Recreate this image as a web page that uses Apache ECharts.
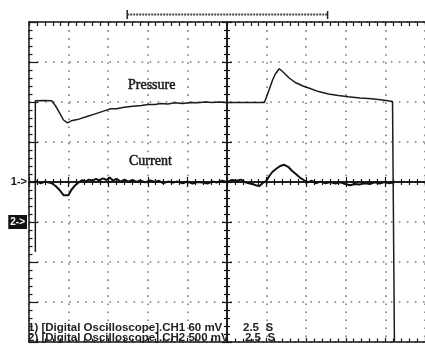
<!DOCTYPE html>
<html>
<head>
<meta charset="utf-8">
<script src="https://cdn.jsdelivr.net/npm/echarts@6/dist/echarts.min.js"></script>
<style>
html,body{margin:0;padding:0;background:#fff;}
#c{width:425px;height:346px;}
</style>
</head>
<body>
<div id="c"></div>
<script>
// time in seconds relative to screen centre (2.5 s/div), amplitude in divisions
const pressureTime = [-12.10,-12.10,-11.57,-11.07,-10.82,-10.57,-10.32,-10.07,-9.83,-9.45,-8.89,-8.27,-7.65,-7.34,-6.97,-6.59,-6.22,-5.78,-5.41,-4.98,-4.54,-4.17,-3.73,-3.30,-2.80,-2.30,-1.87,-1.37,-0.93,-0.50,0,1.24,2.36,2.61,2.86,3.05,3.30,3.54,3.92,4.35,4.79,5.16,5.78,6.41,7.03,7.65,8.40,9.14,9.83,10.45,10.57,10.57];
const pressureDiv  = [-1.75,2.03,2.04,2.03,1.90,1.73,1.55,1.48,1.53,1.56,1.63,1.71,1.79,1.83,1.83,1.86,1.88,1.90,1.91,1.94,1.94,1.96,1.95,1.98,1.96,1.99,1.98,2.00,1.99,2.00,1.99,1.99,1.99,2.25,2.53,2.70,2.83,2.75,2.60,2.48,2.40,2.35,2.26,2.20,2.16,2.13,2.10,2.08,2.05,2.01,2.01,-4.0];

const currentTime = [-12.25,-12.00,-11.75,-11.50,-11.26,-11.07,-10.82,-10.57,-10.32,-10.20,-10.01,-9.83,-9.58,-9.33,-9.14,-8.96,-8.71,-8.52,-8.27,-8.08,-7.84,-7.59,-7.40,-7.21,-6.97,-6.72,-6.47,-6.22,-5.97,-5.72,-5.47,-5.16,-4.85,-4.54,-4.29,-4.04,-3.73,-3.42,-3.11,-2.80,-2.49,-2.18,-1.87,-1.55,-1.24,-0.93,-0.62,-0.31,0,0.31,0.62,0.87,1.12,1.37,1.62,1.87,2.05,2.24,2.49,2.67,2.86,3.11,3.36,3.61,3.86,4.10,4.35,4.60,4.85,5.10,5.35,5.60,5.91,6.22,6.53,6.84,7.15,7.46,7.77,8.08,8.40,8.71,9.02,9.33,9.64,9.95,10.26,10.57];
const currentDiv  = [0,0.01,-0.03,0.01,-0.01,-0.03,-0.10,-0.20,-0.33,-0.38,-0.33,-0.20,-0.08,0,0.05,0.01,0.06,0.03,0.08,0.04,0.09,0.05,0.11,0.04,0.08,0.01,0.06,0.01,0.05,0,0.04,-0.01,0.04,0,0.03,-0.03,0.01,-0.01,0.01,-0.03,0.01,-0.04,0,-0.01,-0.04,0.01,-0.01,0.03,0,0.05,0.03,0.06,0,-0.03,-0.05,-0.09,-0.10,-0.03,0.03,0.15,0.25,0.33,0.40,0.43,0.38,0.28,0.20,0.11,0.05,-0.01,0.03,-0.03,0.01,-0.03,0,-0.04,-0.01,-0.05,-0.08,-0.05,-0.06,-0.03,-0.05,-0.01,-0.04,0,-0.03,0];

const markerValues = [0, -1];
const markerTexts = ['1->', '2->'];
const cursorRange = [-6.3, 6.35];
const traceLabels = ['Pressure', 'Current'];
const footerLines = ['1) [Digital Oscilloscope].CH1 60 mV', '2) [Digital Oscilloscope].CH2 500 mV'];
const footerTimebase = ['2.5  S', '2.5  S'];

const ink = '#151515';
const dotStyle = {color:'#7a7a7a', width:1.6, type:[1.6, 6.44]};

function xAx(pos, onZero, inside, majorLen, minorLen, split, z) {
  return {
    type:'value', min:-12.5, max:12.5, interval:2.5, position:pos,
    axisLine:{show:true, onZero:onZero, onZeroAxisIndex:0, lineStyle:{color:ink, width:1.5}},
    axisTick:{show:true, inside:inside, length:majorLen, lineStyle:{color:ink, width:1.2}},
    minorTick:{show:true, splitNumber:5, length:minorLen, lineStyle:{color:ink, width:1.2}},
    axisLabel:{show:false},
    splitLine:{show:split, lineStyle:dotStyle},
    z:z
  };
}
function yAx(pos, onZero, inside, majorLen, minorLen, split, z, labels) {
  return {
    type:'value', min:-4, max:4, interval:1, position:pos,
    axisLine:{show:true, onZero:onZero, onZeroAxisIndex:0, lineStyle:{color:ink, width:1.5}},
    axisTick:{show:true, inside:inside, length:majorLen, lineStyle:{color:ink, width:1.2}},
    minorTick:{show:true, splitNumber:5, length:minorLen, lineStyle:{color:ink, width:1.2}},
    axisLabel: labels ? {
      show:true, margin:2, fontFamily:'Liberation Sans', fontSize:11, fontWeight:'bold', color:ink,
      formatter: function(v){
        const i = markerValues.indexOf(Math.round(v));
        if (i < 0) return '';
        return i === 0 ? '{a|' + markerTexts[i] + '}' : '{b|' + markerTexts[i] + '}';
      },
      rich:{
        a:{fontFamily:'Liberation Sans', fontSize:11, fontWeight:'bold', color:ink},
        b:{fontFamily:'Liberation Sans', fontSize:10, fontWeight:'bold', color:'#fff', backgroundColor:'#111', padding:[2,2,2,2]}
      }
    } : {show:false},
    splitLine:{show:split, lineStyle:dotStyle},
    z:z
  };
}

const chart = echarts.init(document.getElementById('c'), null, {renderer:'canvas'});
const pressure = pressureTime.map((t,i)=>[t, pressureDiv[i]]);
const current = currentTime.map((t,i)=>[t, currentDiv[i]]);

chart.setOption({
  animation:false,
  backgroundColor:'#fff',
  grid:{left:29, top:22, width:402, height:320, containLabel:false},
  xAxis:[
    xAx('bottom', true, false, 5, 3, false, 5),
    xAx('top', true, false, 5, 3, false, 5),
    xAx('bottom', false, true, 4, 3.5, true, 1),
    xAx('top', false, true, 4, 4, false, 1)
  ],
  yAxis:[
    yAx('left', true, false, 5, 3, false, 5, false),
    yAx('right', true, false, 5, 3, false, 5, false),
    yAx('left', false, true, 9, 3.5, true, 1, true)
  ],
  series:[
    {type:'line', name:traceLabels[0], data:pressure, xAxisIndex:0, yAxisIndex:0, showSymbol:false, symbol:'none',
     lineStyle:{color:'#1c1c1c', width:1.5}, z:6},
    {type:'line', name:traceLabels[1], data:current, xAxisIndex:0, yAxisIndex:0, showSymbol:false, symbol:'none',
     lineStyle:{color:'#101010', width:2}, z:6}
  ]
});

const cx0 = chart.convertToPixel({xAxisIndex:0}, cursorRange[0]);
const cx1 = chart.convertToPixel({xAxisIndex:0}, cursorRange[1]);

chart.setOption({
  graphic:[
    {type:'line', shape:{x1:cx0, y1:14.5, x2:cx1, y2:14.5}, style:{stroke:'#444', lineWidth:2, lineDash:[2,1]}},
    {type:'line', shape:{x1:cx0, y1:10, x2:cx0, y2:19}, style:{stroke:'#222', lineWidth:1.5}},
    {type:'line', shape:{x1:cx1, y1:11, x2:cx1, y2:19}, style:{stroke:'#222', lineWidth:1.5}},
    {type:'text', x:128, y:85, style:{text:traceLabels[0], font:'14px "Liberation Serif"', fill:'#1a1a1a', stroke:'#1a1a1a', lineWidth:0.5, textVerticalAlign:'middle'}},
    {type:'text', x:129, y:161, style:{text:traceLabels[1], font:'14px "Liberation Serif"', fill:'#1a1a1a', stroke:'#1a1a1a', lineWidth:0.5, textVerticalAlign:'middle'}},
    {type:'text', x:28, y:328, z:10, style:{text:footerLines[0], font:'bold 11.5px "Liberation Sans"', fill:'#222', textVerticalAlign:'middle'}},
    {type:'text', x:243, y:328, z:10, style:{text:footerTimebase[0], font:'bold 11.5px "Liberation Sans"', fill:'#222', textVerticalAlign:'middle'}},
    {type:'text', x:28, y:338, z:10, style:{text:footerLines[1], font:'bold 11.5px "Liberation Sans"', fill:'#222', textVerticalAlign:'middle'}},
    {type:'text', x:245, y:338, z:10, style:{text:footerTimebase[1], font:'bold 11.5px "Liberation Sans"', fill:'#222', textVerticalAlign:'middle'}}
  ]
});
</script>
</body>
</html>
